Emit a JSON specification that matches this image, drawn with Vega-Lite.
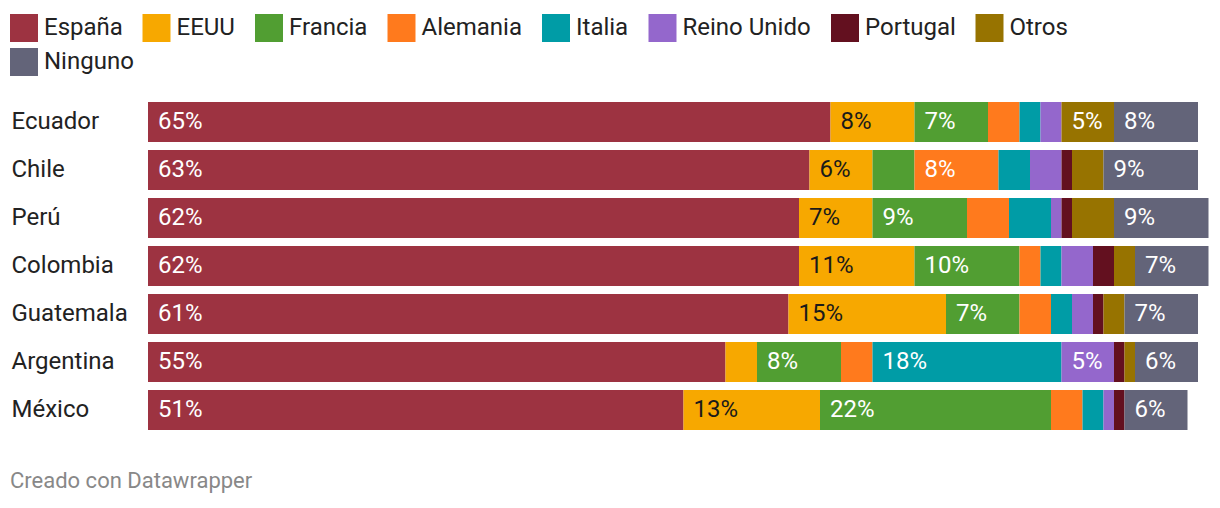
{
  "$schema": "https://vega.github.io/schema/vega-lite/v6.json",
  "autosize": {"type": "none"},
  "width": 1050,
  "height": 336,
  "padding": {"left": 148, "top": 98, "right": 22, "bottom": 74},
  "background": "white",
  "title": {
    "text": "Creado con Datawrapper",
    "orient": "bottom",
    "anchor": "start",
    "frame": "group",
    "dx": -138,
    "offset": 37,
    "fontSize": 22,
    "font": "Roboto",
    "fontWeight": "normal",
    "color": "#888888"
  },
  "data": {
    "values": [
      {"country": "Ecuador", "cat": "España", "value": 65},
      {"country": "Ecuador", "cat": "EEUU", "value": 8},
      {"country": "Ecuador", "cat": "Francia", "value": 7},
      {"country": "Ecuador", "cat": "Alemania", "value": 3},
      {"country": "Ecuador", "cat": "Italia", "value": 2},
      {"country": "Ecuador", "cat": "Reino Unido", "value": 2},
      {"country": "Ecuador", "cat": "Otros", "value": 5},
      {"country": "Ecuador", "cat": "Ninguno", "value": 8},
      {"country": "Chile", "cat": "España", "value": 63},
      {"country": "Chile", "cat": "EEUU", "value": 6},
      {"country": "Chile", "cat": "Francia", "value": 4},
      {"country": "Chile", "cat": "Alemania", "value": 8},
      {"country": "Chile", "cat": "Italia", "value": 3},
      {"country": "Chile", "cat": "Reino Unido", "value": 3},
      {"country": "Chile", "cat": "Portugal", "value": 1},
      {"country": "Chile", "cat": "Otros", "value": 3},
      {"country": "Chile", "cat": "Ninguno", "value": 9},
      {"country": "Perú", "cat": "España", "value": 62},
      {"country": "Perú", "cat": "EEUU", "value": 7},
      {"country": "Perú", "cat": "Francia", "value": 9},
      {"country": "Perú", "cat": "Alemania", "value": 4},
      {"country": "Perú", "cat": "Italia", "value": 4},
      {"country": "Perú", "cat": "Reino Unido", "value": 1},
      {"country": "Perú", "cat": "Portugal", "value": 1},
      {"country": "Perú", "cat": "Otros", "value": 4},
      {"country": "Perú", "cat": "Ninguno", "value": 9},
      {"country": "Colombia", "cat": "España", "value": 62},
      {"country": "Colombia", "cat": "EEUU", "value": 11},
      {"country": "Colombia", "cat": "Francia", "value": 10},
      {"country": "Colombia", "cat": "Alemania", "value": 2},
      {"country": "Colombia", "cat": "Italia", "value": 2},
      {"country": "Colombia", "cat": "Reino Unido", "value": 3},
      {"country": "Colombia", "cat": "Portugal", "value": 2},
      {"country": "Colombia", "cat": "Otros", "value": 2},
      {"country": "Colombia", "cat": "Ninguno", "value": 7},
      {"country": "Guatemala", "cat": "España", "value": 61},
      {"country": "Guatemala", "cat": "EEUU", "value": 15},
      {"country": "Guatemala", "cat": "Francia", "value": 7},
      {"country": "Guatemala", "cat": "Alemania", "value": 3},
      {"country": "Guatemala", "cat": "Italia", "value": 2},
      {"country": "Guatemala", "cat": "Reino Unido", "value": 2},
      {"country": "Guatemala", "cat": "Portugal", "value": 1},
      {"country": "Guatemala", "cat": "Otros", "value": 2},
      {"country": "Guatemala", "cat": "Ninguno", "value": 7},
      {"country": "Argentina", "cat": "España", "value": 55},
      {"country": "Argentina", "cat": "EEUU", "value": 3},
      {"country": "Argentina", "cat": "Francia", "value": 8},
      {"country": "Argentina", "cat": "Alemania", "value": 3},
      {"country": "Argentina", "cat": "Italia", "value": 18},
      {"country": "Argentina", "cat": "Reino Unido", "value": 5},
      {"country": "Argentina", "cat": "Portugal", "value": 1},
      {"country": "Argentina", "cat": "Otros", "value": 1},
      {"country": "Argentina", "cat": "Ninguno", "value": 6},
      {"country": "México", "cat": "España", "value": 51},
      {"country": "México", "cat": "EEUU", "value": 13},
      {"country": "México", "cat": "Francia", "value": 22},
      {"country": "México", "cat": "Alemania", "value": 3},
      {"country": "México", "cat": "Italia", "value": 2},
      {"country": "México", "cat": "Reino Unido", "value": 1},
      {"country": "México", "cat": "Portugal", "value": 1},
      {"country": "México", "cat": "Ninguno", "value": 6}
    ]
  },
  "transform": [
    {"calculate": "indexof(['España','EEUU','Francia','Alemania','Italia','Reino Unido','Portugal','Otros','Ninguno'], datum.cat)", "as": "ord"},
    {"calculate": "datum.value + '%'", "as": "label"},
    {"stack": "value", "groupby": ["country"], "sort": [{"field": "ord", "order": "ascending"}], "as": ["x0", "x1"]}
  ],
  "encoding": {
    "y": {
      "field": "country",
      "type": "nominal",
      "sort": ["Ecuador", "Chile", "Perú", "Colombia", "Guatemala", "Argentina", "México"],
      "scale": {"paddingInner": 0.1667, "paddingOuter": 0.0833},
      "axis": {
        "title": null,
        "domain": false,
        "ticks": false,
        "tickSize": 0,
        "labelAlign": "left",
        "labelPadding": 137,
        "labelFontSize": 24,
        "labelFont": "Roboto",
        "labelColor": "#222222",
        "labelLimit": 200
      }
    }
  },
  "layer": [
    {
      "transform": [{"filter": "datum.cat !== 'Ninguno'"}],
      "mark": {"type": "bar", "cornerRadius": 0},
      "encoding": {
        "x": {"field": "x0", "type": "quantitative", "scale": {"domain": [0, 100], "nice": false}, "axis": null},
        "x2": {"field": "x1"},
        "color": {
          "field": "cat",
          "type": "nominal",
          "scale": {
            "domain": ["España", "EEUU", "Francia", "Alemania", "Italia", "Reino Unido", "Portugal", "Otros"],
            "range": ["#9d3341", "#f7a800", "#519e32", "#ff7a1d", "#009ca6", "#9467cc", "#63101f", "#977300"]
          },
          "legend": {
            "title": null,
            "orient": "none",
            "legendX": -138,
            "legendY": -84,
            "direction": "horizontal",
            "symbolType": "square",
            "symbolSize": 784,
            "symbolStrokeWidth": 0,
            "symbolOpacity": 1,
            "labelFontSize": 24,
            "labelFont": "Roboto",
            "labelColor": "#222222",
            "labelOffset": 6,
            "columnPadding": 19.5,
            "padding": 0,
            "labelLimit": 300
          }
        }
      }
    },
    {
      "transform": [{"filter": "datum.cat === 'Ninguno'"}],
      "mark": {"type": "bar", "cornerRadius": 0},
      "encoding": {
        "x": {"field": "x0", "type": "quantitative"},
        "x2": {"field": "x1"},
        "fill": {
          "field": "cat",
          "type": "nominal",
          "scale": {"domain": ["Ninguno"], "range": ["#636479"]},
          "legend": {
            "title": null,
            "orient": "none",
            "legendX": -138,
            "legendY": -50,
            "direction": "horizontal",
            "symbolType": "square",
            "symbolSize": 784,
            "symbolStrokeWidth": 0,
            "symbolOpacity": 1,
            "labelFontSize": 24,
            "labelFont": "Roboto",
            "labelColor": "#222222",
            "labelOffset": 6,
            "padding": 0,
            "labelLimit": 300
          }
        }
      }
    },
    {
      "transform": [{"filter": "datum.value >= 5"}],
      "mark": {"type": "text", "align": "left", "baseline": "middle", "dx": 10, "fontSize": 24, "font": "Roboto"},
      "encoding": {
        "x": {"field": "x0", "type": "quantitative"},
        "text": {"field": "label"},
        "color": {"condition": {"test": "datum.cat === 'EEUU'", "value": "#1a1a1a"}, "value": "#ffffff"}
      }
    }
  ],
  "config": {"view": {"stroke": null}}
}
